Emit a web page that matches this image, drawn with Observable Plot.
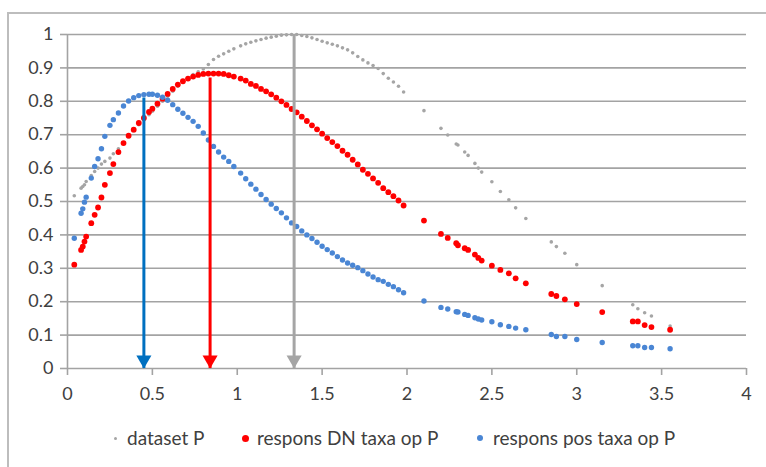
<!DOCTYPE html>
<html>
<head>
<meta charset="utf-8">
<script src="https://cdn.jsdelivr.net/npm/d3@7"></script>
<script src="https://cdn.jsdelivr.net/npm/@observablehq/plot@0.6"></script>
<style>
  html, body { margin: 0; padding: 0; background: #fff; }
  body { width: 766px; height: 467px; position: relative; overflow: hidden; font-family: Lato, "Open Sans", sans-serif; }
  #frame { position: absolute; left: 7px; top: 12px; width: 800px; height: 500px; border-left: 2px solid #bdbdbd; border-top: 2px solid #bdbdbd; box-sizing: border-box; }
  #chart { position: absolute; left: 0; top: 0; }
  #legend { position: absolute; top: 426px; left: 0; width: 766px; height: 24px; font-size: 19px; color: #404040; }
  .item { position: absolute; top: 0; line-height: 24px; white-space: nowrap; }
  .mk { position: absolute; border-radius: 50%; }
</style>
</head>
<body>
<div id="frame"></div>
<div id="chart"></div>
<div id="legend"></div>
<script>
// Shared x values (P)
const xs = [0.04,0.08,0.09,0.10,0.11,0.14,0.16,0.18,0.20,0.22,0.25,0.27,0.30,0.33,0.36,0.39,0.42,0.45,0.48,0.50,
  0.53,0.56,0.59,0.62,0.65,0.68,0.71,0.74,0.77,0.80,0.83,0.86,0.89,0.92,0.95,0.98,1.02,1.05,1.08,1.11,
  1.14,1.17,1.20,1.23,1.26,1.29,1.32,1.35,1.38,1.41,1.44,1.47,1.50,1.53,1.56,1.59,1.62,1.65,1.68,1.71,
  1.74,1.77,1.80,1.83,1.86,1.89,1.92,1.95,1.98,2.10,2.20,2.24,2.29,2.30,2.34,2.36,2.40,2.42,2.44,2.50,
  2.55,2.60,2.64,2.70,2.85,2.88,2.93,3.00,3.15,3.33,3.36,3.40,3.44,3.55];
// dataset P
const datasetP = [0.517,0.540,0.545,0.550,0.560,0.578,0.590,0.600,0.612,0.620,0.630,0.643,0.658,0.675,0.693,0.712,0.730,0.745,0.760,0.770,
  0.785,0.800,0.815,0.830,0.845,0.858,0.868,0.880,0.888,0.897,0.910,0.925,0.935,0.942,0.950,0.957,0.966,0.972,0.977,0.981,
  0.985,0.989,0.992,0.995,0.998,0.999,1.000,1.000,0.997,0.994,0.990,0.985,0.980,0.975,0.971,0.966,0.960,0.954,0.945,0.934,
  0.924,0.915,0.907,0.898,0.883,0.869,0.858,0.845,0.828,0.772,0.719,0.699,0.672,0.669,0.648,0.638,0.614,0.600,0.588,0.559,
  0.530,0.505,0.481,0.449,0.379,0.365,0.345,0.311,0.248,0.191,0.179,0.167,0.157,0.127];
// respons DN taxa op P
const responsDN = [0.311,0.355,0.365,0.380,0.395,0.435,0.460,0.482,0.512,0.550,0.585,0.612,0.648,0.675,0.697,0.715,0.735,0.750,0.768,0.778,
  0.793,0.808,0.822,0.837,0.850,0.860,0.868,0.874,0.879,0.882,0.883,0.883,0.883,0.882,0.878,0.874,0.868,0.862,0.852,0.846,
  0.837,0.830,0.821,0.811,0.800,0.789,0.777,0.767,0.754,0.741,0.728,0.716,0.703,0.690,0.678,0.666,0.652,0.640,0.625,0.611,
  0.595,0.583,0.569,0.556,0.540,0.528,0.516,0.503,0.488,0.443,0.403,0.391,0.375,0.369,0.360,0.355,0.341,0.331,0.323,0.308,
  0.295,0.285,0.270,0.255,0.223,0.217,0.207,0.193,0.169,0.141,0.141,0.130,0.124,0.116];
// respons pos taxa op P
const responsPos = [0.390,0.465,0.478,0.498,0.513,0.570,0.605,0.628,0.658,0.695,0.728,0.745,0.765,0.786,0.801,0.811,0.817,0.820,0.821,0.821,
  0.818,0.812,0.803,0.790,0.776,0.764,0.752,0.740,0.725,0.705,0.684,0.665,0.648,0.633,0.620,0.605,0.585,0.568,0.552,0.537,
  0.521,0.506,0.492,0.479,0.466,0.451,0.436,0.425,0.412,0.400,0.389,0.378,0.366,0.356,0.346,0.335,0.325,0.316,0.309,0.302,
  0.293,0.283,0.274,0.266,0.261,0.252,0.245,0.236,0.227,0.202,0.183,0.178,0.170,0.169,0.162,0.159,0.152,0.148,0.145,0.140,
  0.131,0.126,0.121,0.116,0.102,0.096,0.096,0.087,0.078,0.068,0.068,0.063,0.063,0.059];

// optimum arrows: x position and top value
const arrowX   = [0.45, 0.84, 1.335];
const arrowTop = [0.81, 0.87, 1.0];
const arrowCol = ["#0070c0", "#ff0000", "#a5a5a5"];

const seriesNames = ["dataset P", "respons DN taxa op P", "respons pos taxa op P"];
const seriesColors = ["#a5a5a5", "#ff0000", "#4a86d4"];

const xTicks = [0, 0.5, 1, 1.5, 2, 2.5, 3, 3.5, 4];
const yTicks = [0, 0.1, 0.2, 0.3, 0.4, 0.5, 0.6, 0.7, 0.8, 0.9, 1];

const mk = ys => xs.map((x, i) => ({x, y: ys[i]}));
const arrows = arrowX.map((x, i) => ({x, top: arrowTop[i], c: arrowCol[i]}));

const gridCol = "#a3a3a3";
const textCol = "#404040";

const chart = Plot.plot({
  width: 766,
  height: 415,
  marginLeft: 67,
  marginRight: 20,
  marginTop: 34,
  marginBottom: 47,
  style: {fontFamily: "Lato, 'Open Sans', sans-serif", fontSize: "18px", background: "transparent"},
  x: {domain: [0, 4]},
  y: {domain: [0, 1]},
  marks: [
    Plot.ruleY(yTicks, {stroke: gridCol, strokeWidth: 1.6}),
    Plot.ruleX([0], {y1: 0, y2: 1, stroke: gridCol, strokeWidth: 1.6}),
    Plot.axisY({ticks: yTicks, tickSize: 7, tickPadding: 7, stroke: gridCol, strokeWidth: 1.6, fill: textCol, label: null,
      tickFormat: d => String(+d.toFixed(1))}),
    Plot.axisX({ticks: xTicks, tickSize: 7, tickPadding: 12, stroke: gridCol, strokeWidth: 1.6, fill: textCol, label: null,
      tickFormat: d => String(d)}),
    Plot.dot(mk(datasetP), {x: "x", y: "y", r: 1.8, fill: seriesColors[0], stroke: "none"}),
    Plot.dot(mk(responsDN), {x: "x", y: "y", r: 2.9, fill: seriesColors[1], stroke: "none"}),
    Plot.dot(mk(responsPos), {x: "x", y: "y", r: 2.7, fill: seriesColors[2], stroke: "none"}),
    Plot.ruleX(arrows, {x: "x", y1: "top", y2: 0, stroke: "c", strokeWidth: 3}),
    Plot.dot(arrows, {x: "x", y: 0, symbol: "triangle", rotate: 180, r: 5.6, fill: "c", stroke: "none", dy: -8.7})
  ]
});
document.getElementById("chart").appendChild(chart);

// legend
const legend = document.getElementById("legend");
const legendPos = [{mx: 115, tx: 127, r: 1.5}, {mx: 245, tx: 257, r: 3.5}, {mx: 480, tx: 493, r: 3.2}];
seriesNames.forEach((name, i) => {
  const p = legendPos[i];
  const m = document.createElement("div");
  m.className = "mk";
  m.style.left = (p.mx - p.r) + "px";
  m.style.top = (12 - p.r) + "px";
  m.style.width = m.style.height = (2 * p.r) + "px";
  m.style.background = seriesColors[i];
  legend.appendChild(m);
  const t = document.createElement("div");
  t.className = "item";
  t.style.left = p.tx + "px";
  t.textContent = name;
  legend.appendChild(t);
});
</script>
</body>
</html>
